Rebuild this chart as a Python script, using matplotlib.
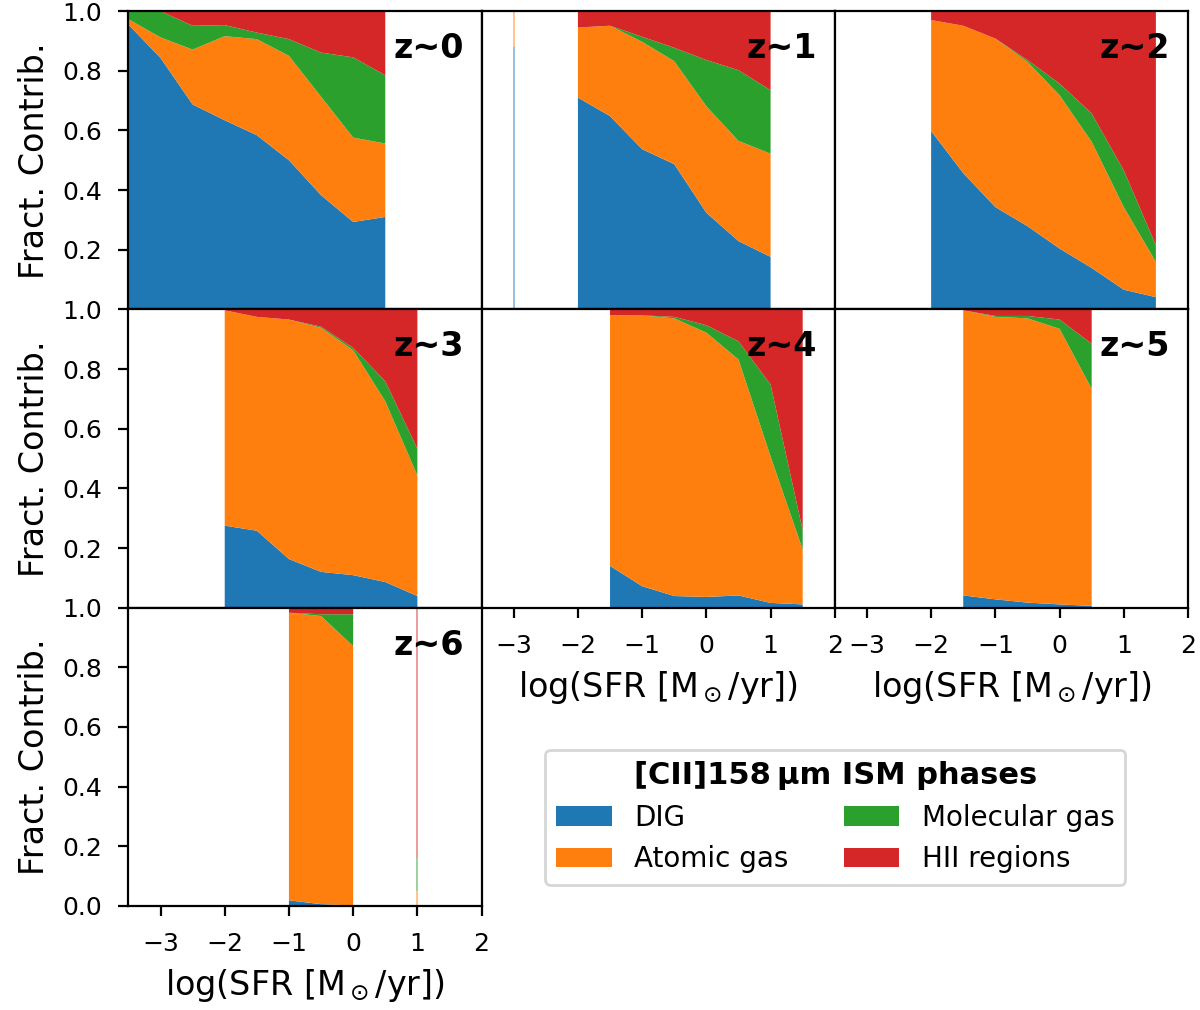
import numpy as np
import matplotlib
matplotlib.use('Agg')
import matplotlib.pyplot as plt

nan = np.nan

# log(SFR) bins shared by all panels
log_sfr = [-3.5, -3.0, -2.5, -2.0, -1.5, -1.0, -0.5, 0.0, 0.5, 1.0, 1.5, 2.0]

phases = ['DIG', 'Atomic gas', 'Molecular gas', 'HII regions']
colors = ['#1f77b4', '#ff7f0e', '#2ca02c', '#d62728']
redshift_labels = ['z~0', 'z~1', 'z~2', 'z~3', 'z~4', 'z~5', 'z~6']

# fractional contribution of each phase, one list per redshift (nan = no galaxies)
dig_frac = [
    [0.955, 0.843, 0.687, 0.634, 0.584, 0.500, 0.383, 0.293, 0.310, nan, nan, nan],
    [nan, 0.880, nan, 0.710, 0.648, 0.537, 0.487, 0.324, 0.229, 0.176, nan, nan],
    [nan, nan, nan, 0.598, 0.457, 0.343, 0.279, 0.204, 0.139, 0.066, 0.041, nan],
    [nan, nan, nan, 0.275, 0.258, 0.163, 0.120, 0.109, 0.086, 0.039, nan, nan],
    [nan, nan, nan, nan, 0.140, 0.072, 0.039, 0.036, 0.041, 0.016, 0.011, nan],
    [nan, nan, nan, nan, 0.041, 0.028, 0.017, 0.011, 0.006, nan, nan, nan],
    [nan, nan, nan, nan, nan, 0.019, 0.006, 0.002, nan, 0.000, nan, nan],
]
atomic_frac = [
    [0.018, 0.069, 0.184, 0.282, 0.322, 0.350, 0.330, 0.283, 0.246, nan, nan, nan],
    [nan, 0.120, nan, 0.235, 0.303, 0.360, 0.345, 0.357, 0.336, 0.346, nan, nan],
    [nan, nan, nan, 0.372, 0.494, 0.565, 0.551, 0.514, 0.423, 0.277, 0.118, nan],
    [nan, nan, nan, 0.722, 0.717, 0.803, 0.818, 0.754, 0.606, 0.404, nan, nan],
    [nan, nan, nan, nan, 0.841, 0.908, 0.931, 0.886, 0.791, 0.491, 0.184, nan],
    [nan, nan, nan, nan, 0.956, 0.947, 0.953, 0.924, 0.728, nan, nan, nan],
    [nan, nan, nan, nan, nan, 0.964, 0.966, 0.869, nan, 0.050, nan, nan],
]
molecular_frac = [
    [0.027, 0.088, 0.080, 0.037, 0.022, 0.056, 0.148, 0.269, 0.229, nan, nan, nan],
    [nan, 0.000, nan, 0.000, 0.000, 0.017, 0.045, 0.155, 0.237, 0.213, nan, nan],
    [nan, nan, nan, 0.000, 0.000, 0.000, 0.006, 0.039, 0.095, 0.123, 0.056, nan],
    [nan, nan, nan, 0.000, 0.000, 0.000, 0.004, 0.008, 0.067, 0.090, nan, nan],
    [nan, nan, nan, nan, 0.000, 0.000, 0.005, 0.025, 0.061, 0.241, 0.065, nan],
    [nan, nan, nan, nan, 0.000, 0.003, 0.008, 0.031, 0.151, nan, nan, nan],
    [nan, nan, nan, nan, nan, 0.000, 0.006, 0.107, nan, 0.110, nan, nan],
]
hii_frac = [
    [0.000, 0.000, 0.049, 0.047, 0.072, 0.094, 0.139, 0.155, 0.215, nan, nan, nan],
    [nan, 0.000, nan, 0.055, 0.049, 0.086, 0.123, 0.164, 0.198, 0.265, nan, nan],
    [nan, nan, nan, 0.030, 0.049, 0.092, 0.164, 0.243, 0.343, 0.534, 0.785, nan],
    [nan, nan, nan, 0.003, 0.025, 0.034, 0.058, 0.129, 0.241, 0.467, nan, nan],
    [nan, nan, nan, nan, 0.019, 0.020, 0.025, 0.053, 0.107, 0.252, 0.740, nan],
    [nan, nan, nan, nan, 0.003, 0.022, 0.022, 0.034, 0.115, nan, nan, nan],
    [nan, nan, nan, nan, nan, 0.017, 0.022, 0.022, nan, 0.840, nan, nan],
]

fig, axes = plt.subplots(3, 3, figsize=(6, 5.05), dpi=200)
fig.subplots_adjust(left=0.107, right=0.99, top=0.989, bottom=0.103,
                    hspace=0, wspace=0)

x = np.array(log_sfr)
for i, ax in enumerate(axes.flat[:7]):
    row, col = divmod(i, 3)
    stack = np.array([dig_frac[i], atomic_frac[i], molecular_frac[i], hii_frac[i]])
    ax.stackplot(x, stack, colors=colors, labels=phases)

    # single isolated bins only show up as a thin sliver
    valid = np.isfinite(stack[0])
    for j in range(len(x)):
        left_ok = j > 0 and valid[j - 1]
        right_ok = j < len(x) - 1 and valid[j + 1]
        if valid[j] and not left_ok and not right_ok:
            base = 0.0
            for k in range(4):
                top = base + stack[k, j]
                if stack[k, j] > 0:
                    ax.vlines(x[j], base, top, colors=colors[k], lw=0.6, alpha=0.55)
                base = top

    ax.set_xlim(-3.5, 2)
    ax.set_ylim(0, 1)
    ax.set_xticks([-3, -2, -1, 0, 1, 2])
    ax.text(0.95, 0.93, redshift_labels[i], transform=ax.transAxes,
            ha='right', va='top', fontsize=12, fontweight='bold')
    ax.tick_params(labelsize=9, pad=6)

    if col == 0:
        if row < 2:
            ax.set_yticks([0.2, 0.4, 0.6, 0.8, 1.0])
        else:
            ax.set_yticks([0.0, 0.2, 0.4, 0.6, 0.8, 1.0])
        ax.set_ylabel('Fract. Contrib.', fontsize=12)
    else:
        ax.set_yticks([])

    show_x = (row == 2) or (row == 1 and col > 0)
    if show_x:
        ax.set_xlabel(r'log(SFR [M$_\odot$/yr])', fontsize=12)
    else:
        ax.tick_params(labelbottom=False, bottom=False)

axes[2, 1].remove()
axes[2, 2].remove()

handles = axes[0, 0].collections[:4]
leg = fig.legend(handles, phases, loc='center', bbox_to_anchor=(0.696, 0.191),
                 ncol=2, fontsize=10, title='[CII]158\u2009\u00b5m ISM phases',
                 title_fontproperties={'weight': 'bold', 'size': 11})

fig.savefig('out.png', dpi=200)
